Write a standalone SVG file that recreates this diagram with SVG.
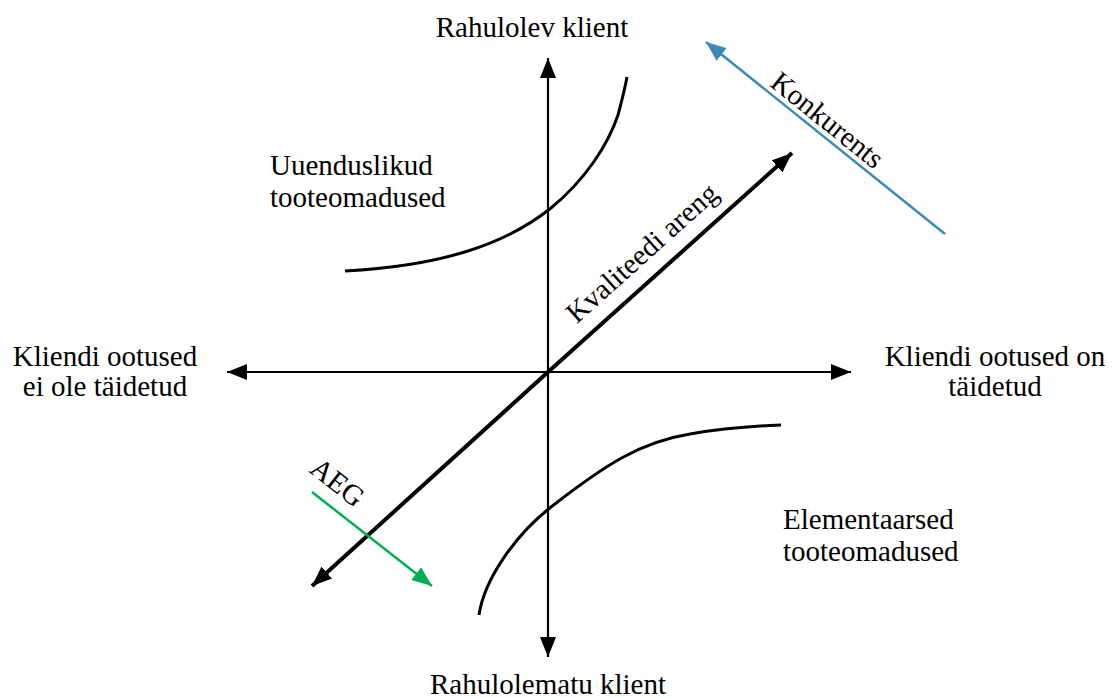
<svg xmlns="http://www.w3.org/2000/svg" width="1115" height="698" viewBox="0 0 1115 698">
<style>
text{font-family:"Liberation Serif","Times New Roman",serif;font-size:29px;fill:#000}
.ax{stroke:#000;stroke-width:2.2;fill:none}
.cv{stroke:#000;stroke-width:3;fill:none}
</style>
<defs>
<marker id="ak" markerUnits="userSpaceOnUse" markerWidth="22" markerHeight="16" refX="20" refY="8" orient="auto"><path d="M0,0L20,8L0,16z" fill="#000"/></marker>
<marker id="ab" markerUnits="userSpaceOnUse" markerWidth="22" markerHeight="16" refX="20" refY="8" orient="auto"><path d="M0,0L20,8L0,16z" fill="#3A89B7"/></marker>
<marker id="ag" markerUnits="userSpaceOnUse" markerWidth="22" markerHeight="16" refX="20" refY="8" orient="auto"><path d="M0,0L20,8L0,16z" fill="#00B050"/></marker>
</defs>
<rect width="1115" height="698" fill="#fff"/>
<g id="connectors">
<line class="ax" x1="548" y1="372" x2="548" y2="58" marker-end="url(#ak)"/>
<line class="ax" x1="548" y1="372" x2="548" y2="657" marker-end="url(#ak)"/>
<line class="ax" x1="548" y1="372" x2="227" y2="372" marker-end="url(#ak)"/>
<line class="ax" x1="548" y1="372" x2="851" y2="372" marker-end="url(#ak)"/>
<line stroke="#000" stroke-width="4" x1="548" y1="372" x2="792" y2="153" marker-end="url(#ak)"/>
<line stroke="#000" stroke-width="4" x1="548" y1="372" x2="312" y2="586" marker-end="url(#ak)"/>
<line stroke="#3A89B7" stroke-width="2.5" x1="945" y1="234" x2="706" y2="42" marker-end="url(#ab)"/>
<line stroke="#00B050" stroke-width="2.5" x1="312" y1="492" x2="432" y2="586" marker-end="url(#ag)"/>
<path class="cv" d="M345,271 C440,266 505,245 551,208 C585,180 608,145 618,115 C622,100 625,88 627,77"/>
<path class="cv" d="M479,615 C484,580 515,535 551,507 C605,465 640,442 690,434 C730,427 760,426 781,425"/>
</g>
<g id="top-label"><text x="532" y="37" text-anchor="middle">Rahulolev klient</text></g>
<g id="bottom-label"><text x="548" y="694" text-anchor="middle">Rahulolematu klient</text></g>
<g id="left-label"><text x="105" y="366" text-anchor="middle">Kliendi ootused</text><text x="105" y="396" text-anchor="middle">ei ole täidetud</text></g>
<g id="right-label"><text x="995" y="366" text-anchor="middle">Kliendi ootused on</text><text x="995" y="396" text-anchor="middle">täidetud</text></g>
<g id="uuenduslikud"><text x="270" y="175">Uuenduslikud</text><text x="270" y="207">tooteomadused</text></g>
<g id="elementaarsed"><text x="783" y="529">Elementaarsed</text><text x="783" y="561">tooteomadused</text></g>
<g id="kvaliteet"><text transform="translate(659,272) rotate(-41.9)" y="-16" text-anchor="middle">Kvaliteedi areng</text></g>
<g id="konkurents"><text transform="translate(817,133) rotate(38.8)" y="-7" text-anchor="middle">Konkurents</text></g>
<g id="aeg"><text transform="translate(323,501) rotate(38)" y="-14" text-anchor="middle">AEG</text></g>
</svg>
